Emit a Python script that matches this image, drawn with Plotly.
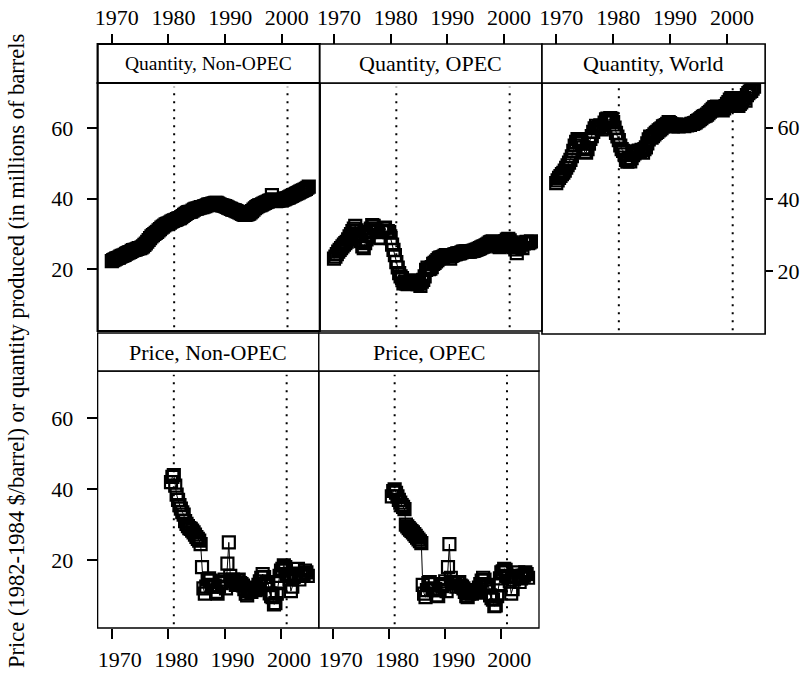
import plotly.graph_objects as go

# ---------------- data (quarterly estimates) ----------------
q_start = 1970.0
p_start = 1980.5
step = 0.25

qty_nonopec = [
    22.3, 22.6, 22.8, 23.0, 23.2, 23.3, 23.6, 23.8, 23.9, 24.1, 24.4, 24.6,
    24.8, 24.9, 25.2, 25.4, 25.5, 25.6, 25.8, 26.0, 26.0, 26.2, 26.5, 26.9,
    27.3, 27.8, 28.3, 28.8, 29.3, 29.7, 30.0, 30.3, 30.6, 31.0, 31.4, 31.8,
    32.1, 32.4, 32.7, 32.9, 33.0, 33.2, 33.5, 33.7, 33.9, 34.0, 34.2, 34.4,
    34.5, 34.8, 35.1, 35.4, 35.7, 36.0, 36.2, 36.3, 36.3, 36.6, 36.9, 37.1,
    37.2, 37.3, 37.5, 37.6, 37.6, 37.8, 37.9, 38.1, 38.3, 38.4, 38.5, 38.6,
    38.7, 38.8, 38.8, 38.6, 38.4, 38.2, 38.1, 38.0, 37.9, 37.7, 37.5, 37.3,
    37.1, 36.9, 36.8, 36.7, 36.5, 36.3, 36.1, 35.9, 35.7, 35.5, 35.4, 35.5,
    35.6, 35.8, 36.1, 36.5, 36.9, 37.3, 37.6, 37.9, 38.1, 38.2, 38.4, 38.6,
    38.8, 39.0, 39.2, 39.4, 39.5, 41.0, 39.8, 39.6, 39.3, 39.4, 39.5, 39.6,
    39.5, 39.7, 39.9, 40.1, 40.2, 40.4, 40.6, 40.8, 41.0, 41.2, 41.4, 41.6,
    41.8, 42.0, 42.2, 42.4, 42.6, 42.8, 43.1, 43.4,
]

qty_opec = [
    23.0, 23.6, 24.3, 25.0, 25.5, 26.0, 26.5, 27.0, 27.4, 27.8, 28.5, 29.3,
    30.0, 30.8, 31.5, 32.3, 31.0, 30.2, 29.5, 28.0, 26.5, 26.0, 27.4, 28.5,
    29.8, 30.5, 31.5, 32.5, 32.3, 31.5, 31.0, 30.8, 29.0, 28.8, 30.5, 31.5,
    31.8, 30.6, 30.8, 30.5, 28.8, 27.0, 25.5, 24.0, 22.0, 20.5, 18.9, 18.0,
    17.5, 16.0, 16.5, 16.0, 15.8, 16.0, 16.8, 16.0, 16.8, 16.5, 16.3, 15.8,
    16.0, 15.3, 16.5, 17.0, 18.0, 19.8, 20.5, 20.0, 20.2, 20.6, 21.5, 21.8,
    22.2, 22.6, 23.1, 23.3, 23.4, 23.5, 23.8, 24.0, 23.8, 23.6, 23.0, 23.8,
    24.0, 24.2, 24.3, 24.5, 24.5, 24.6, 24.8, 25.0, 25.0, 25.1, 25.0, 25.0,
    25.0, 25.1, 25.2, 25.3, 25.5, 25.6, 25.8, 26.0, 26.2, 26.4, 26.5, 26.8,
    27.0, 27.3, 27.6, 27.8, 27.9, 27.6, 27.4, 27.2, 26.5, 26.3, 26.6, 27.0,
    27.5, 28.0, 28.4, 28.6, 28.2, 27.6, 27.0, 26.3, 25.6, 24.6, 26.2, 26.6,
    27.0, 26.0, 27.3, 27.6, 27.8, 27.4, 27.6, 27.9,
]

qty_world = [
    44.5, 45.3, 46.0, 46.5, 47.0, 47.4, 48.0, 48.8, 49.5, 50.2, 51.0, 52.0,
    53.5, 55.0, 56.0, 56.8, 56.5, 56.0, 55.6, 54.5, 53.2, 53.0, 54.0, 55.5,
    56.8, 57.6, 58.8, 59.8, 60.5, 60.0, 60.2, 60.6, 59.5, 60.0, 61.4, 62.3,
    62.5, 62.0, 62.6, 62.4, 61.5, 60.0, 58.5, 57.5, 56.5, 55.0, 54.0, 53.5,
    52.5, 51.0, 50.5, 51.2, 50.6, 51.5, 52.3, 52.8, 53.2, 53.4, 53.6, 53.4,
    53.8, 53.0, 54.0, 54.5, 55.6, 56.7, 57.5, 57.2, 57.6, 58.1, 58.5, 58.8,
    59.2, 59.5, 59.8, 60.3, 60.5, 60.7, 61.0, 61.5, 61.2, 60.9, 60.3, 60.8,
    60.8, 60.5, 60.3, 60.6, 60.5, 60.6, 60.4, 60.7, 60.6, 60.8, 60.7, 61.0,
    61.0, 61.2, 61.4, 61.8, 62.0, 62.3, 62.6, 63.0, 63.2, 63.3, 63.6, 64.0,
    64.4, 64.8, 65.2, 65.6, 65.7, 65.8, 65.5, 65.2, 65.0, 64.8, 65.3, 66.0,
    66.6, 67.1, 67.8, 68.2, 68.0, 67.4, 67.0, 66.4, 66.0, 66.6, 67.0, 67.6,
    68.2, 67.5, 69.0, 69.6, 70.0, 70.2, 70.8, 71.4,
]

price_nonopec = [
    42.0, 43.5,
    44.0, 41.0, 38.5, 37.0, 35.5, 34.5, 33.5, 32.8, 31.0, 30.2, 29.6, 29.0,
    28.8, 28.3, 27.8, 27.2, 26.5, 26.0, 25.5, 24.5, 18.0, 12.0, 10.5, 12.5,
    14.5, 14.8, 14.2, 13.0, 12.5, 12.8, 11.0, 10.5, 12.5, 13.8, 13.5, 14.0,
    14.5, 12.0, 19.0, 25.0, 15.5, 14.0, 14.5, 14.2, 13.0, 14.2, 14.5, 13.5,
    13.2, 12.8, 11.8, 10.5, 10.0, 11.2, 11.8, 11.0, 11.8, 12.2, 11.5, 11.8,
    13.0, 14.0, 15.0, 16.0, 15.2, 13.4, 13.8, 13.2, 10.6, 9.8, 9.5, 7.5,
    7.8, 10.5, 13.5, 15.5, 17.0, 17.5, 18.5, 18.0, 16.0, 15.8, 14.5, 11.2,
    12.5, 15.2, 16.0, 16.2, 17.5, 14.5, 15.5, 16.0, 16.0, 17.0, 16.5, 15.5,
]

price_opec = [
    38.0, 39.5,
    40.0, 39.0, 38.0, 37.0, 36.2, 35.5, 35.0, 34.4, 30.0, 29.5, 29.0, 28.6,
    28.2, 27.8, 27.3, 26.8, 26.3, 25.8, 25.3, 24.8, 13.0, 10.5, 9.5, 11.5,
    13.5, 13.8, 13.2, 12.0, 11.5, 11.8, 10.0, 9.8, 11.5, 12.8, 12.6, 13.2,
    14.0, 11.2, 18.0, 24.5, 15.0, 13.5, 13.8, 13.5, 12.5, 13.5, 13.8, 12.8,
    12.5, 12.0, 11.0, 9.8, 9.5, 10.5, 11.0, 10.5, 11.2, 11.5, 10.8, 11.0,
    12.2, 13.2, 14.2, 15.0, 14.5, 12.8, 13.0, 12.5, 10.0, 9.2, 8.8, 7.0,
    7.2, 9.8, 12.8, 14.8, 16.5, 16.8, 17.5, 17.2, 15.5, 15.2, 14.0, 10.5,
    11.8, 14.5, 15.2, 15.5, 16.5, 13.8, 14.8, 15.5, 15.6, 16.5, 16.0, 15.0,
]

panel_titles = ["Quantity, Non-OPEC", "Quantity, OPEC", "Quantity, World",
                "Price, Non-OPEC", "Price, OPEC"]
ref_years = [1981, 2001]
x_ticks = [1970, 1980, 1990, 2000]
y_ticks = [20, 40, 60]
y_title = "Price (1982-1984 $/barrel) or quantity produced (in millions of barrels"

# ---------------- layout geometry (pixels) ----------------
W, H = 804, 673
FONT = "Liberation Serif"


def px_x(v):
    return v / W


def px_y(v):
    return 1 - v / H


# (x0, x1, plot_top, plot_bottom, strip_top, strip_font, frame_lw)
panels = [
    (95, 318, 83, 331, 44, 19.5, 2.2),
    (318, 541, 83, 331, 44, 22, 1.6),
    (541, 765, 83, 334, 44, 22, 1.6),
    (95, 317, 371, 628, 333, 22, 1.3),
    (317, 538, 371, 628, 333, 22, 1.3),
]
series = [
    (q_start, qty_nonopec),
    (q_start, qty_opec),
    (q_start, qty_world),
    (p_start, price_nonopec),
    (p_start, price_opec),
]
yranges = [[2.5, 72.8], [2.5, 72.8], [2.5, 72.4], [0.8, 73.4], [0.8, 73.4]]
xrange_ = [1967.5, 2006.7]

fig = go.Figure()
shapes = []
annotations = []

for i, ((x0, x1, pt, pb, st, sfont, flw), (start, vals)) in enumerate(zip(panels, series)):
    n = i + 1
    xa = "x" if n == 1 else f"x{n}"
    ya = "y" if n == 1 else f"y{n}"
    xs = [start + k * step for k in range(len(vals))]
    fig.add_trace(go.Scatter(
        x=xs, y=vals, xaxis=xa, yaxis=ya, mode="lines+markers",
        line=dict(color="black", width=1),
        marker=dict(symbol="square-open", size=12, color="black",
                    line=dict(color="black", width=2.2)),
        showlegend=False, hoverinfo="skip",
    ))
    top_row = i < 3
    xaxis = dict(
        domain=[px_x(x0), px_x(x1)], range=xrange_,
        tickmode="array", tickvals=x_ticks,
        ticks="outside", ticklen=10, tickwidth=1.5,
        tickcolor="black", showgrid=False, zeroline=False, showline=False,
        tickfont=dict(family=FONT, size=22, color="black"),
        tickangle=0, ticklabelshift=5 if top_row else 8,
    )
    if top_row:
        xaxis.update(anchor="free", position=px_y(st), side="top")
    else:
        xaxis.update(anchor=ya, side="bottom", ticklabelstandoff=2)
    show_y = i in (0, 2, 3)
    yaxis = dict(
        domain=[px_y(pb), px_y(pt)], range=yranges[i], anchor=xa,
        side="right" if i == 2 else "left",
        tickmode="array", tickvals=y_ticks if show_y else [],
        ticks="outside" if show_y else "", ticklen=10 if i != 2 else 7,
        tickwidth=1.5, tickcolor="black",
        showticklabels=show_y, showgrid=False, zeroline=False, showline=False,
        tickfont=dict(family=FONT, size=22, color="black"),
        ticklabelstandoff=9 if i != 2 else 0,
    )
    key = "" if n == 1 else str(n)
    fig.layout["xaxis" + key] = xaxis
    fig.layout["yaxis" + key] = yaxis

    for yr in ref_years:
        shapes.append(dict(
            type="line", xref=xa, yref=f"{ya} domain", x0=yr, x1=yr,
            y0=0.015, y1=0.985, layer="below",
            line=dict(color="black", width=2, dash="2px,6px"),
        ))
    shapes.append(dict(
        type="rect", xref="paper", yref="paper",
        x0=px_x(x0), x1=px_x(x1), y0=px_y(pb), y1=px_y(pt),
        line=dict(color="black", width=flw), fillcolor="rgba(0,0,0,0)",
    ))
    shapes.append(dict(
        type="rect", xref="paper", yref="paper",
        x0=px_x(x0), x1=px_x(x1), y0=px_y(pt), y1=px_y(st),
        line=dict(color="black", width=flw), fillcolor="white",
    ))
    annotations.append(dict(
        text=panel_titles[i], xref="paper", yref="paper",
        x=(px_x(x0) + px_x(x1)) / 2, y=(px_y(pt) + px_y(st)) / 2,
        xanchor="center", yanchor="middle", showarrow=False,
        font=dict(family=FONT, size=sfont, color="black"),
    ))

annotations.append(dict(
    text=y_title, xref="paper", yref="paper", x=px_x(13), y=px_y(351),
    xanchor="center", yanchor="middle", textangle=-90, showarrow=False,
    font=dict(family=FONT, size=22.5, color="black"),
))

fig.update_layout(
    width=W, height=H, margin=dict(l=0, r=0, t=0, b=0),
    paper_bgcolor="white", plot_bgcolor="white",
    shapes=shapes, annotations=annotations, showlegend=False,
)

fig.write_html("out.html")
